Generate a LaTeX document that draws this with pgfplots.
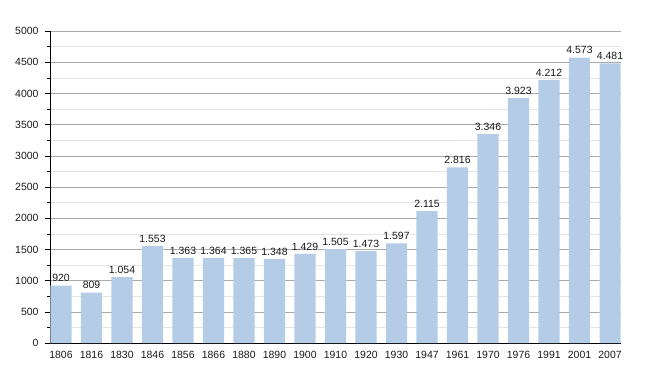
\documentclass[border=0pt]{standalone}
\usepackage{pgfplots}
\pgfplotsset{compat=1.18}
\usepackage{fontspec}
\setmainfont{Liberation Sans}
\definecolor{barblue}{RGB}{180,204,230}
\definecolor{majgrid}{RGB}{170,170,170}
\definecolor{mingrid}{RGB}{228,228,228}
\begin{document}
\begin{tikzpicture}
\begin{axis}[
  scale only axis,
  width=571bp, height=312bp,
  xmin=-0.36, xmax=18.36,
  ymin=0, ymax=5000,
  axis x line*=bottom, axis y line*=left,
  axis line style={black, line width=0.8pt},
  xtick=data,
  xticklabels={1806,1816,1830,1846,1856,1866,1880,1890,1900,1910,1920,1930,1947,1961,1970,1976,1991,2001,2007},
  x tick style={draw=none},
  ytick={0,500,...,5000},
  minor y tick num=1,
  tick align=outside,
  major tick length=5bp, minor tick length=3bp,
  y tick style={black, line width=0.6pt},
  ymajorgrids, yminorgrids,
  major grid style={majgrid, line width=0.6pt},
  minor grid style={mingrid, line width=0.6pt},
  yticklabel style={/pgf/number format/1000 sep={}, xshift=-3bp},
  xticklabel style={/pgf/number format/1000 sep={}},
  tick label style={font=\fontsize{10.5}{12}\selectfont, text=black!90},
  /pgf/number format/assume math mode=true,
  ybar, bar width=0.69,
  nodes near coords,
  nodes near coords style={font=\fontsize{10.5}{12}\selectfont, text=black!90, /pgf/number format/1000 sep={.}, inner sep=3.5bp},
  clip=false,
]
\addplot[fill=barblue, draw=none] coordinates {
(0,920) (1,809) (2,1054) (3,1553) (4,1363) (5,1364) (6,1365) (7,1348) (8,1429) (9,1505)
(10,1473) (11,1597) (12,2115) (13,2816) (14,3346) (15,3923) (16,4212) (17,4573) (18,4481)};
\end{axis}
\path[use as bounding box] (-50bp,-30bp) rectangle (600bp,343bp);
\end{tikzpicture}
\end{document}
